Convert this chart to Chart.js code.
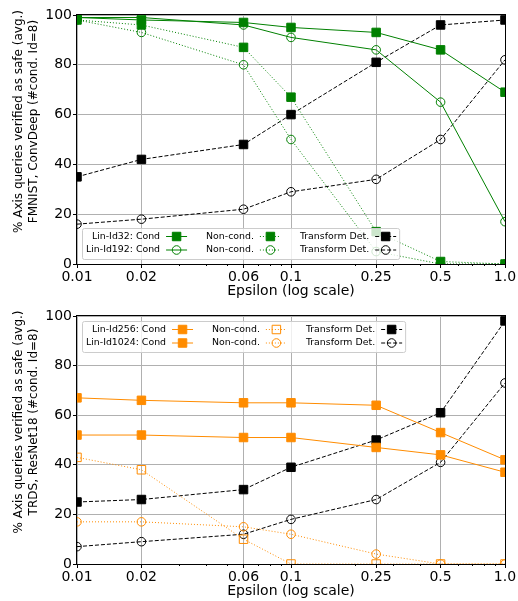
<!DOCTYPE html>
<html>
<head>
<meta charset="utf-8">
<script src="https://cdn.jsdelivr.net/npm/chart.js@4.4.1/dist/chart.umd.min.js"></script>
<style>
    body { margin: 0; background: #fff; }
    .panel { position: absolute; left: 0; }
</style>
</head>
<body>
<canvas id="fmnistChart" class="panel" width="518" height="301" style="top:0"></canvas>
<canvas id="trdsChart" class="panel" width="518" height="300" style="top:301px"></canvas>
<script>
// Shared axis values
const epsilons = [0.01, 0.02, 0.06, 0.1, 0.25, 0.5, 1.0];
const epsilonLabels = ['0.01', '0.02', '0.06', '0.1', '0.25', '0.5', '1.0'];
const minorEpsilons = [0.03, 0.04, 0.05, 0.07, 0.08, 0.09, 0.2, 0.3, 0.4, 0.6, 0.7, 0.8, 0.9];

// FMNIST, ConvDeep
const fmnistId32Cond = [99, 98, 97, 95, 93, 86, 69];
const fmnistId192Cond = [99, 99, 96, 91, 86, 65, 17];
const fmnistId32NonCond = [98, 96, 87, 67, 13, 1, 0];
const fmnistId192NonCond = [98, 93, 80, 50, 5, 0, 0];
const fmnistId32Transform = [35, 42, 48, 60, 81, 96, 98];
const fmnistId192Transform = [16, 18, 22, 29, 34, 50, 82];

// TRDS, ResNet18
const trdsId256Cond = [67, 66, 65, 65, 64, 53, 42];
const trdsId1024Cond = [52, 52, 51, 51, 47, 44, 37];
const trdsId256NonCond = [43, 38, 10, 0, 0, 0, 0];
const trdsId1024NonCond = [17, 17, 15, 12, 4, 0, 0];
const trdsId256Transform = [25, 26, 30, 39, 50, 61, 98];
const trdsId1024Transform = [7, 9, 12, 18, 26, 41, 73];

const colors = {
    green: '#008000',
    orange: '#ff8c00',
    black: '#000000',
    grid: '#b0b0b0'
};

const FONT = 'DejaVu Sans';

function series(label, values, color, style, marker) {
    const dash = style === 'dotted' ? [1, 2] : style === 'dashed' ? [4, 2] : [];
    const open = marker !== 'square';
    return {
        label: label,
        data: epsilons.map((e, i) => ({ x: e, y: values[i] })),
        borderColor: color,
        borderWidth: 1,
        borderDash: dash,
        pointStyle: marker === 'circle' ? 'circle' : 'rect',
        pointRadius: marker === 'circle' ? 4.3 : 6,
        pointBorderWidth: 1,
        pointBorderColor: color,
        pointBackgroundColor: open ? 'rgba(0,0,0,0)' : color,
        fill: false,
        tension: 0
    };
}

// Axes frame, minor ticks, rotated y label and the legend box
const decorPlugin = {
    id: 'decor',
    afterDatasetsDraw(chart) {
        const ctx = chart.ctx;
        const area = chart.chartArea;
        const xScale = chart.scales.x;
        ctx.save();
        ctx.strokeStyle = colors.black;
        ctx.lineWidth = 1;
        ctx.setLineDash([]);
        ctx.strokeRect(Math.round(area.left) - 0.5, Math.round(area.top) - 0.5,
            Math.round(area.right - area.left) + 1, Math.round(area.bottom - area.top) + 1);

        // minor ticks
        ctx.beginPath();
        minorEpsilons.forEach(v => {
            const px = Math.round(xScale.getPixelForValue(v)) + 0.5;
            ctx.moveTo(px, area.bottom);
            ctx.lineTo(px, area.bottom + 2);
        });
        ctx.stroke();

        // y axis title (two lines)
        const lines = chart.options.plugins.decor.yTitle;
        ctx.fillStyle = colors.black;
        ctx.font = '12px "' + FONT + '"';
        ctx.textAlign = 'center';
        ctx.textBaseline = 'middle';
        const cy = (area.top + area.bottom) / 2 - 18;
        lines.forEach((text, i) => {
            ctx.save();
            ctx.translate(19 + i * 15, cy);
            ctx.rotate(-Math.PI / 2);
            ctx.fillText(text, 0, 0);
            ctx.restore();
        });

        drawLegend(chart, chart.options.plugins.decor.legendAt);
        ctx.restore();
    }
};

function drawLegend(chart, where) {
    const ctx = chart.ctx;
    const area = chart.chartArea;
    const sets = chart.data.datasets;
    ctx.font = '9.4px "' + FONT + '"';
    const pad = 4, gap = 6, handle = 21, colGap = 19, rowH = 13.5;
    const cols = [];
    for (let c = 0; c < sets.length / 2; c++) {
        const w = Math.max(ctx.measureText(sets[2 * c].label).width,
            ctx.measureText(sets[2 * c + 1].label).width);
        cols.push(w);
    }
    const boxW = pad * 2 + cols.reduce((a, w) => a + w + gap + handle, 0) + colGap * (cols.length - 1) - 1;
    const boxH = 31;
    const left = area.left + 5;
    const top = where === 'lower left' ? area.bottom - 5 - boxH : area.top + 5;

    ctx.fillStyle = 'rgba(255,255,255,0.8)';
    ctx.strokeStyle = '#cccccc';
    ctx.lineWidth = 1;
    ctx.beginPath();
    ctx.roundRect(Math.round(left) + 0.5, Math.round(top) + 0.5, boxW, boxH, 2);
    ctx.fill();
    ctx.stroke();

    let x = left + pad;
    cols.forEach((w, c) => {
        for (let r = 0; r < 2; r++) {
            const ds = sets[2 * c + r];
            const y = top + 8.5 + r * rowH;
            ctx.fillStyle = colors.black;
            ctx.textAlign = 'right';
            ctx.textBaseline = 'middle';
            ctx.fillText(ds.label, x + w, y);

            const hx = x + w + gap;
            ctx.strokeStyle = ds.borderColor;
            ctx.lineWidth = 1;
            ctx.setLineDash(ds.borderDash);
            ctx.beginPath();
            ctx.moveTo(hx, y);
            ctx.lineTo(hx + handle, y);
            ctx.stroke();
            ctx.setLineDash([]);
            ctx.fillStyle = ds.pointBackgroundColor;
            Chart.helpers.drawPoint(ctx, {
                pointStyle: ds.pointStyle,
                radius: ds.pointRadius,
                borderWidth: 1,
                rotation: 0
            }, hx + handle / 2, y);
        }
        x += w + gap + handle + colGap;
    });
}

function makeChart(canvasId, datasets, yTitle, legendAt) {
    const ctx = document.getElementById(canvasId).getContext('2d');
    return new Chart(ctx, {
        type: 'line',
        data: { datasets: datasets },
        options: {
            responsive: false,
            animation: false,
            layout: { padding: { top: 15, right: 13, bottom: 0, left: 0 } },
            scales: {
                x: {
                    type: 'logarithmic',
                    min: 0.01,
                    max: 1.0,
                    afterBuildTicks: scale => {
                        scale.ticks = epsilons.map(v => ({ value: v }));
                    },
                    afterFit: scale => {
                        scale.height = 37;
                        scale.paddingLeft = 0;
                        scale.paddingRight = 0;
                    },
                    ticks: {
                        autoSkip: false,
                        maxRotation: 0,
                        minRotation: 0,
                        padding: 1,
                        color: colors.black,
                        font: { family: FONT, size: 14 },
                        callback: (value, index) => epsilonLabels[index]
                    },
                    grid: {
                        color: colors.grid,
                        lineWidth: 1,
                        tickLength: 4,
                        tickColor: colors.black
                    },
                    border: { display: false },
                    title: {
                        display: true,
                        text: 'Epsilon (log scale)',
                        color: colors.black,
                        font: { family: FONT, size: 14 },
                        padding: { top: 0, bottom: 1 }
                    }
                },
                y: {
                    min: 0,
                    max: 100,
                    afterFit: scale => {
                        scale.width = 77;
                        scale.paddingTop = 0;
                        scale.paddingBottom = 0;
                    },
                    ticks: {
                        stepSize: 20,
                        padding: 1,
                        color: colors.black,
                        font: { family: FONT, size: 14 }
                    },
                    grid: {
                        color: colors.grid,
                        lineWidth: 1,
                        tickLength: 4,
                        tickColor: colors.black
                    },
                    border: { display: false }
                }
            },
            plugins: {
                legend: { display: false },
                tooltip: { enabled: false },
                decor: { yTitle: yTitle, legendAt: legendAt }
            }
        },
        plugins: [decorPlugin]
    });
}

makeChart('fmnistChart', [
    series('Lin-Id32: Cond', fmnistId32Cond, colors.green, 'solid', 'square'),
    series('Lin-Id192: Cond', fmnistId192Cond, colors.green, 'solid', 'circle'),
    series('Non-cond.', fmnistId32NonCond, colors.green, 'dotted', 'square'),
    series('Non-cond.', fmnistId192NonCond, colors.green, 'dotted', 'circle'),
    series('Transform Det.', fmnistId32Transform, colors.black, 'dashed', 'square'),
    series('Transform Det.', fmnistId192Transform, colors.black, 'dashed', 'circle')
], ['% Axis queries verified as safe (avg.)', 'FMNIST, ConvDeep (#cond. Id=8)'], 'lower left');

makeChart('trdsChart', [
    series('Lin-Id256: Cond', trdsId256Cond, colors.orange, 'solid', 'square'),
    series('Lin-Id1024: Cond', trdsId1024Cond, colors.orange, 'solid', 'square'),
    series('Non-cond.', trdsId256NonCond, colors.orange, 'dotted', 'openSquare'),
    series('Non-cond.', trdsId1024NonCond, colors.orange, 'dotted', 'circle'),
    series('Transform Det.', trdsId256Transform, colors.black, 'dashed', 'square'),
    series('Transform Det.', trdsId1024Transform, colors.black, 'dashed', 'circle')
], ['% Axis queries verified as safe (avg.)', 'TRDS, ResNet18 (#cond. Id=8)'], 'upper left');
</script>
</body>
</html>
